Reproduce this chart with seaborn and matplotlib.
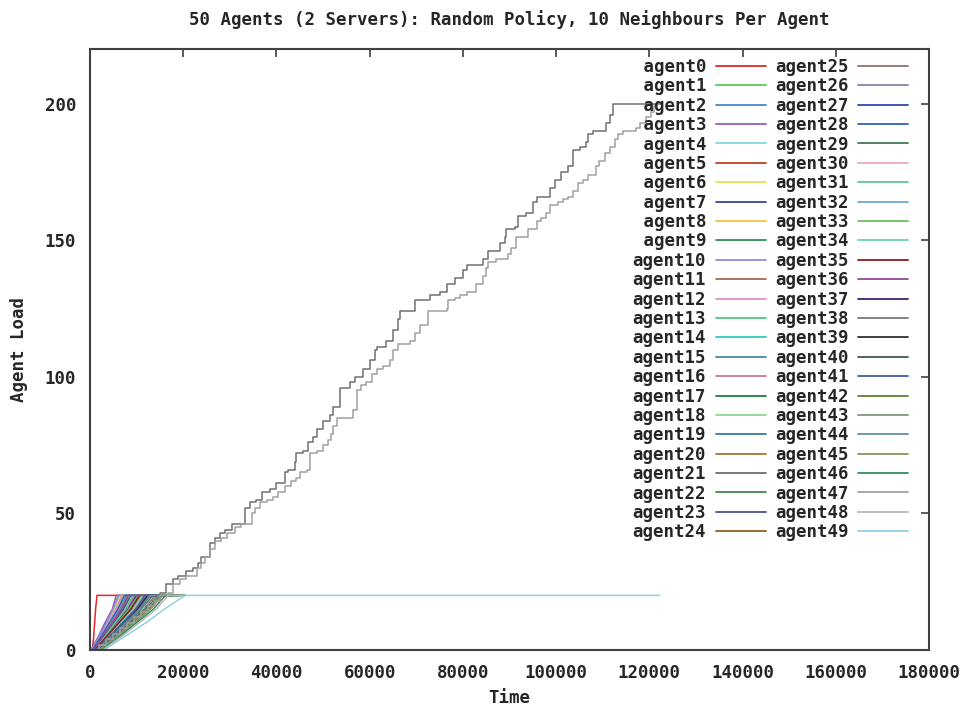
import matplotlib
matplotlib.use("Agg")
import matplotlib.pyplot as plt
import seaborn as sns
import pandas as pd
from matplotlib.lines import Line2D

# ---------------- data ----------------
agent_names = [f"agent{i}" for i in range(50)]
agent_colors = [
    "#e02828", "#5cc85c", "#4a86d0", "#9a5cc0", "#80d8e0", "#c0402a", "#e8e050", "#3a40a0",
    "#f8c040", "#309050", "#9090d8", "#a07050", "#e090c8", "#50c880", "#30c8c8", "#4888a8",
    "#d07890", "#208040", "#90d890", "#3878a8", "#a07830", "#707070", "#488848", "#505090",
    "#906020", "#907070", "#9080a0", "#3048b0", "#3060c0", "#407850", "#f0a8c0", "#60c890",
    "#70a8d0", "#70c060", "#70d0b0", "#901818", "#904898", "#402070", "#787878", "#303030",
    "#405858", "#4060a0", "#608030", "#809880", "#6090a0", "#909060", "#309060", "#a0a0a0",
    "#b8b8b8", "#90d0e8",
]

server_agents = [21, 47]

# server 1 (agent21) load history: time, load
server1_time = [0, 1500, 3000, 4500, 6000, 7500, 9000, 10500, 12000, 13500, 15000, 16400, 17900,
                18900, 20700, 22200, 23200, 23900, 25700, 26800, 27900, 28900, 30400, 32200, 33200,
                34300, 35700, 36800, 38600, 40000, 41800, 42500, 44000, 44300, 45700, 46800, 47900,
                48600, 50000, 51500, 52200, 53600, 55700, 56800, 58600, 60000, 61100, 61500, 63600,
                65000, 66100, 66500, 69000, 69700, 71800, 72900, 75000, 76500, 78300, 80000, 80800,
                84300, 85400, 87900, 89000, 89300, 91100, 91800, 93600, 95000, 95800, 98600, 99700,
                101100, 102500, 103600, 105100, 106500, 106800, 107900, 109300, 110800, 111500,
                112200, 122200]
server1_load = [0, 2, 4, 6, 8, 10, 12, 14, 16, 18, 21, 24, 26,
                27, 29, 30, 32, 34, 39, 41, 43, 44, 46, 46, 52,
                54, 55, 58, 59, 61, 65, 66, 69, 72, 73, 76, 78,
                81, 84, 86, 89, 96, 98, 100, 103, 106, 110, 111, 113,
                117, 121, 124, 124, 128, 128, 130, 131, 134, 136, 139, 141,
                143, 146, 149, 151, 154, 155, 159, 160, 164, 166, 169, 172,
                175, 177, 183, 184, 186, 189, 190, 190, 193, 196,
                200, 200]

# server 2 (agent47) load history: time, load
server2_time = [0, 2000, 3500, 5000, 6500, 8000, 9500, 11000, 12500, 14000, 15000, 16800, 17900,
                19300, 20700, 22200, 22900, 23900, 24700, 25700, 26800, 28200, 29300, 31100, 32500,
                33900, 34700, 35400, 36400, 37900, 39300, 40400, 41800, 43200, 44300, 45000, 46500,
                47200, 48600, 50000, 51100, 51800, 52200, 52900, 55000, 56500, 57200, 58200, 59300,
                60400, 61500, 62900, 64300, 65000, 66100, 67900, 68600, 69700, 70800, 72500, 75000,
                76500, 76800, 78300, 79300, 80800, 81800, 82900, 84300, 85000, 85400, 87200, 89700,
                90400, 91500, 92900, 94000, 95000, 95800, 96800, 97900, 98600, 100400, 101500,
                102500, 103600, 104700, 105800, 106800, 108600, 109300, 110400, 111500, 112600,
                113300, 114300, 116500, 117200, 117900, 119300, 120400, 121100, 121600, 122200]
server2_load = [0, 2, 4, 6, 8, 10, 12, 14, 16, 18, 20, 21, 24,
                26, 27, 27, 30, 32, 34, 37, 40, 41, 43, 45, 46,
                46, 50, 52, 54, 55, 56, 58, 60, 62, 63, 65, 66,
                72, 73, 75, 77, 79, 82, 85, 85, 88, 95, 97, 98,
                101, 103, 104, 106, 110, 112, 112, 113, 116, 119, 124, 124,
                125, 128, 129, 130, 131, 131, 134, 137, 140, 142, 143, 145,
                147, 151, 151, 154, 154, 157, 158, 160, 163, 164, 165,
                166, 168, 171, 172, 174, 177, 179, 182, 184, 187,
                189, 190, 190, 191, 193, 195, 197, 199, 200, 200]

# ordinary agents: times (ms) when their load starts rising and reaches 5, 10, 15, 20; end of log
agent_t_start = [500, 300, 500, 200, 1000, 600, 400, 800, 500, 1200, 400, 900, 600, 700, 500, 1100,
                 800, 1500, 600, 1000, 1300, 0, 2000, 700, 1400, 1000, 600, 900, 500, 1800, 1200, 800,
                 1600, 900, 1100, 1000, 700, 1300, 1700, 1500, 1900, 1200, 2200, 2000, 1400, 2400,
                 2600, 0, 2800, 3000]
agent_t5 = [800, 2000, 2500, 1800, 3500, 2800, 2200, 3000, 2600, 4000, 2000, 3200, 2400, 2900, 2700,
            3800, 3400, 4500, 2500, 3600, 4200, 0, 5500, 3000, 4400, 3800, 2600, 3400, 2400, 5000,
            4000, 3200, 4800, 3600, 4000, 3600, 2800, 4400, 5000, 4600, 5400, 4200, 5800, 5600, 4600,
            6000, 6400, 0, 6800, 7500]
agent_t10 = [1000, 3500, 4000, 3200, 5500, 5000, 3800, 4800, 4200, 6500, 3600, 5500, 4000, 4800, 4600,
             6000, 5600, 7500, 4400, 6000, 7000, 0, 9000, 5200, 7200, 6400, 4600, 5800, 4200, 8000,
             6800, 5400, 7800, 6000, 6600, 6200, 4800, 7400, 8400, 7600, 8800, 7000, 9200, 9000, 7600,
             9600, 10000, 0, 10600, 12000]
agent_t15 = [1200, 5000, 5500, 4800, 7500, 7000, 5200, 6500, 5800, 9000, 5000, 8000, 5600, 6800, 6400,
             8300, 7800, 10500, 6000, 8600, 9600, 0, 10500, 7200, 10000, 8800, 6400, 8200, 6000, 11000,
             9400, 7600, 10800, 8400, 9200, 8800, 6800, 10200, 11600, 10600, 12000, 9800, 12600, 12200,
             10600, 13000, 13600, 0, 14200, 16000]
agent_t20 = [1500, 6000, 7000, 5600, 9500, 8500, 6500, 7800, 7200, 11000, 6200, 9800, 6800, 8400, 7600,
             10200, 9400, 12500, 7400, 10600, 11600, 0, 13000, 8800, 12200, 10800, 8000, 10000, 7400,
             13500, 11400, 9200, 13000, 10400, 11200, 10600, 8200, 12400, 14000, 12800, 14600, 11800,
             15200, 14800, 12800, 15600, 16200, 0, 16800, 20400]
agent_t_end = [13000, 14000, 15000, 12000, 16000, 15000, 13000, 14000, 15000, 17000, 13000, 16000,
               14000, 15000, 14000, 16000, 15000, 20400, 14000, 17000, 18000, 0, 19000, 15000, 18000,
               16000, 14000, 16000, 13000, 19000, 17000, 15000, 18000, 16000, 17000, 16000, 14000,
               18000, 19000, 18000, 19000, 17000, 20000, 19000, 18000, 20000, 20400, 0, 20000, 122200]
agent_loads = [0, 0, 5, 10, 15, 20, 20]

x_ticks = [0, 20000, 40000, 60000, 80000, 100000, 120000, 140000, 160000, 180000]
y_ticks = [0, 50, 100, 150, 200]

# ---------------- figure ----------------
sns.set_theme(style="white")
plt.rcParams["font.family"] = ["DejaVu Sans Mono"]
plt.rcParams["font.weight"] = "bold"

FS = 12.5
fig = plt.figure(figsize=(9.64, 7.07), dpi=100)
ax = fig.add_axes([90 / 964, 1 - 650 / 707, (929 - 90) / 964, (650 - 49) / 707])

for i in range(50):
    if i == server_agents[0]:
        df = pd.DataFrame({"t": server1_time, "load": server1_load})
        ds = "steps-post"
    elif i == server_agents[1]:
        df = pd.DataFrame({"t": server2_time, "load": server2_load})
        ds = "steps-post"
    else:
        ts = [0, agent_t_start[i], agent_t5[i], agent_t10[i], agent_t15[i], agent_t20[i], agent_t_end[i]]
        df = pd.DataFrame({"t": ts, "load": agent_loads})
        ds = "default"
    sns.lineplot(data=df, x="t", y="load", ax=ax, color=agent_colors[i], linewidth=1.1,
                 estimator=None, sort=False, drawstyle=ds, legend=False)

ax.set_xlim(0, 180000)
ax.set_ylim(0, 220)
ax.set_xticks(x_ticks)
ax.set_xticklabels([str(v) for v in x_ticks])
ax.set_yticks(y_ticks)
ax.set_yticklabels([str(v) for v in y_ticks])
ax.tick_params(direction="in", length=6, width=1.2, color="#404040", labelsize=FS,
               top=True, right=True, pad=10)
for lab in ax.get_xticklabels() + ax.get_yticklabels():
    lab.set_fontweight("bold")
for sp in ax.spines.values():
    sp.set_color("#404040")
    sp.set_linewidth(1.5)

ax.set_title("50 Agents (2 Servers): Random Policy, 10 Neighbours Per Agent",
             fontsize=FS, fontweight="bold", pad=17)
ax.set_xlabel("Time", fontsize=FS, fontweight="bold", labelpad=5)
ax.set_ylabel("Agent Load", fontsize=FS, fontweight="bold", labelpad=12)

handles = [Line2D([], [], color=agent_colors[i], linewidth=1.3) for i in range(50)]
labels = [n.rjust(7) for n in agent_names]
leg = ax.legend(handles, labels, loc="upper right", ncol=2, frameon=False, markerfirst=False,
                handlelength=2.87, handletextpad=0.55, columnspacing=0.55, labelspacing=0.08,
                borderpad=0, borderaxespad=0,
                bbox_to_anchor=(908 / 964, 1 - 58 / 707), bbox_transform=fig.transFigure,
                prop={"family": "DejaVu Sans Mono", "weight": "bold", "size": FS})

fig.savefig("out.png", dpi=100)
